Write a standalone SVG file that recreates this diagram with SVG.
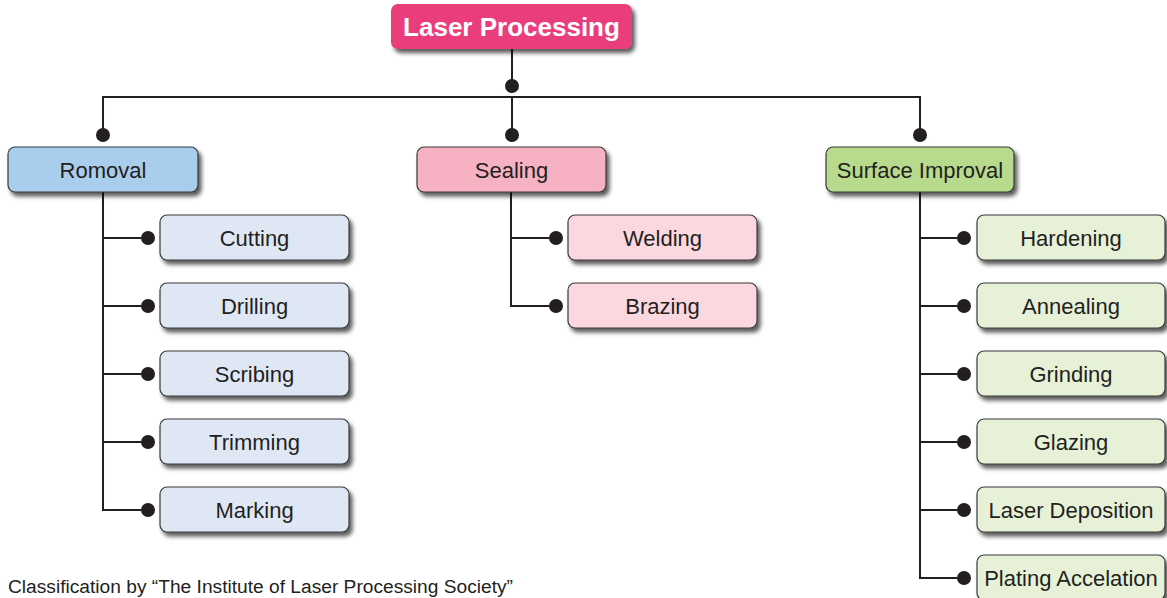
<svg xmlns="http://www.w3.org/2000/svg" width="1167" height="598" viewBox="0 0 1167 598">
  <defs>
    <filter id="shadow" x="-10%" y="-20%" width="130%" height="160%">
      <feGaussianBlur in="SourceAlpha" stdDeviation="2.2"/>
      <feOffset dx="3" dy="4" result="b"/>
      <feComponentTransfer><feFuncA type="linear" slope="0.65"/></feComponentTransfer>
      <feMerge><feMergeNode/><feMergeNode in="SourceGraphic"/></feMerge>
    </filter>
  </defs>
  <style>
    .box { stroke: #3a3a3a; stroke-width: 1.2; filter: url(#shadow); }
    .root { fill: #e93d7b; stroke: none; }
    .rem { fill: #a9cdec; }
    .rem2 { fill: #dfe7f5; }
    .seal { fill: #f6b2c3; }
    .seal2 { fill: #fbd7e0; }
    .surf { fill: #b7da8c; }
    .surf2 { fill: #e7f1d8; }
    .lbl { font-family: "Liberation Sans", Arial, sans-serif; font-size: 22px; fill: #231f20; text-anchor: middle; }
    .rootlbl { font-family: "Liberation Sans", Arial, sans-serif; font-size: 26px; font-weight: bold; fill: #ffffff; text-anchor: middle; }
    .wire { fill: none; stroke: #231f20; stroke-width: 2; }
    .dot { fill: #231f20; }
    .caption { font-family: "Liberation Sans", Arial, sans-serif; font-size: 18px; fill: #231f20; }
  </style>

  <!-- connectors -->
  <g id="connectors">
    <path class="wire" d="M512 49 V86"/>
    <path class="wire" d="M103 135 V97 H920 V135 M512 97 V135"/>
    <circle class="dot" cx="512" cy="86" r="7"/>
    <circle class="dot" cx="103" cy="135" r="7"/>
    <circle class="dot" cx="512" cy="135" r="7"/>
    <circle class="dot" cx="920" cy="135" r="7"/>

    <!-- Romoval branch -->
    <path class="wire" d="M103 192 V510 H148 M103 238 H148 M103 306 H148 M103 374 H148 M103 442 H148"/>
    <circle class="dot" cx="148" cy="238" r="7"/>
    <circle class="dot" cx="148" cy="306" r="7"/>
    <circle class="dot" cx="148" cy="374" r="7"/>
    <circle class="dot" cx="148" cy="442" r="7"/>
    <circle class="dot" cx="148" cy="510" r="7"/>

    <!-- Sealing branch -->
    <path class="wire" d="M511 192 V306 H556 M511 238 H556"/>
    <circle class="dot" cx="556" cy="238" r="7"/>
    <circle class="dot" cx="556" cy="306" r="7"/>

    <!-- Surface Improval branch -->
    <path class="wire" d="M920 192 V578 H964 M920 238 H964 M920 306 H964 M920 374 H964 M920 442 H964 M920 510 H964"/>
    <circle class="dot" cx="964" cy="238" r="7"/>
    <circle class="dot" cx="964" cy="306" r="7"/>
    <circle class="dot" cx="964" cy="374" r="7"/>
    <circle class="dot" cx="964" cy="442" r="7"/>
    <circle class="dot" cx="964" cy="510" r="7"/>
    <circle class="dot" cx="964" cy="578" r="7"/>
  </g>

  <!-- root -->
  <g id="laser-processing">
    <rect class="box root" x="391" y="4" width="241" height="45" rx="7"/>
    <text class="rootlbl" x="511.5" y="36">Laser Processing</text>
  </g>

  <!-- level 1 -->
  <g id="romoval">
    <rect class="box rem" x="8" y="147" width="190" height="45" rx="7"/>
    <text class="lbl" x="103" y="178">Romoval</text>
  </g>
  <g id="sealing">
    <rect class="box seal" x="417" y="147" width="189" height="45" rx="7"/>
    <text class="lbl" x="511.5" y="178">Sealing</text>
  </g>
  <g id="surface-improval">
    <rect class="box surf" x="826" y="147" width="188" height="45" rx="7"/>
    <text class="lbl" x="920" y="178">Surface Improval</text>
  </g>

  <!-- Romoval children -->
  <g id="cutting">
    <rect class="box rem2" x="160" y="215" width="189" height="45" rx="7"/>
    <text class="lbl" x="254.5" y="246">Cutting</text>
  </g>
  <g id="drilling">
    <rect class="box rem2" x="160" y="283" width="189" height="45" rx="7"/>
    <text class="lbl" x="254.5" y="314">Drilling</text>
  </g>
  <g id="scribing">
    <rect class="box rem2" x="160" y="351" width="189" height="45" rx="7"/>
    <text class="lbl" x="254.5" y="382">Scribing</text>
  </g>
  <g id="trimming">
    <rect class="box rem2" x="160" y="419" width="189" height="45" rx="7"/>
    <text class="lbl" x="254.5" y="450">Trimming</text>
  </g>
  <g id="marking">
    <rect class="box rem2" x="160" y="487" width="189" height="45" rx="7"/>
    <text class="lbl" x="254.5" y="518">Marking</text>
  </g>

  <!-- Sealing children -->
  <g id="welding">
    <rect class="box seal2" x="568" y="215" width="189" height="45" rx="7"/>
    <text class="lbl" x="662.5" y="246">Welding</text>
  </g>
  <g id="brazing">
    <rect class="box seal2" x="568" y="283" width="189" height="45" rx="7"/>
    <text class="lbl" x="662.5" y="314">Brazing</text>
  </g>

  <!-- Surface Improval children -->
  <g id="hardening">
    <rect class="box surf2" x="977" y="215" width="188" height="45" rx="7"/>
    <text class="lbl" x="1071" y="246">Hardening</text>
  </g>
  <g id="annealing">
    <rect class="box surf2" x="977" y="283" width="188" height="45" rx="7"/>
    <text class="lbl" x="1071" y="314">Annealing</text>
  </g>
  <g id="grinding">
    <rect class="box surf2" x="977" y="351" width="188" height="45" rx="7"/>
    <text class="lbl" x="1071" y="382">Grinding</text>
  </g>
  <g id="glazing">
    <rect class="box surf2" x="977" y="419" width="188" height="45" rx="7"/>
    <text class="lbl" x="1071" y="450">Glazing</text>
  </g>
  <g id="laser-deposition">
    <rect class="box surf2" x="977" y="487" width="188" height="45" rx="7"/>
    <text class="lbl" x="1071" y="518">Laser Deposition</text>
  </g>
  <g id="plating-accelation">
    <rect class="box surf2" x="977" y="555" width="188" height="45" rx="7"/>
    <text class="lbl" x="1071" y="586">Plating Accelation</text>
  </g>

  <text class="caption" x="8" y="593" textLength="505" lengthAdjust="spacingAndGlyphs">Classification by “The Institute of Laser Processing Society”</text>
</svg>
